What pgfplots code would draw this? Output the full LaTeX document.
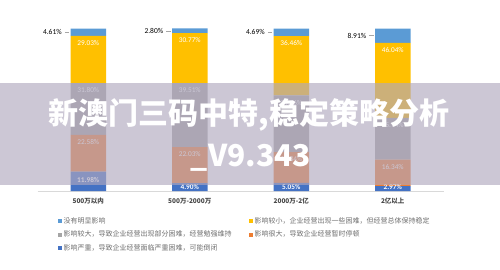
\documentclass[border=0pt]{standalone}
\usepackage{pgfplots}
\pgfplotsset{compat=1.18}
\usepackage{pgfplotstable}
\usepackage{fontspec}
\setmainfont{Carlito}
\newfontfamily\cjk{Noto Sans CJK SC}
\definecolor{cNone}{RGB}{91,155,213}
\definecolor{cSmall}{RGB}{255,192,0}
\definecolor{cBig}{RGB}{165,165,165}
\definecolor{cVbig}{RGB}{237,125,49}
\definecolor{cSev}{RGB}{68,114,196}
\definecolor{ovl}{RGB}{176,168,190}
\definecolor{axgray}{RGB}{217,217,217}
\definecolor{legtxt}{RGB}{110,110,110}
\definecolor{cattxt}{RGB}{70,70,70}
\definecolor{leadgray}{RGB}{166,166,166}

% shares of each answer, per company size (percent)
\pgfplotstableread{
x none small big vbig sev
0 4.61 29.03 31.80 22.58 11.98
1 2.80 30.77 39.51 22.03 4.90
2 4.69 36.46 34.96 18.84 5.05
3 8.91 46.04 25.74 16.34 2.97
}\shares

% inside labels, at the top of their segment (y = segment top)
\pgfplotstableread{
x y v
0 95.39 29.03
0 66.36 31.80
0 34.56 22.58
1 97.21 30.77
1 66.44 39.51
1 26.93 22.03
2 95.31 36.46
2 58.85 34.96
2 23.89 18.84
3 91.09 46.04
3 45.05 25.74
3 19.31 16.34
}\inlabels

\pgfplotstableread{
x y v
0 6.5 11.98
1 2.5 4.90
2 2.5 5.05
3 2.5 2.97
}\bottomlabels

\pgfplotstableread{
x y v
-0.25 97.70 4.61
0.75 98.60 2.80
1.75 97.66 4.69
2.75 95.55 8.91
}\toplabels

\begin{document}
\begin{tikzpicture}
\path[use as bounding box] (0,0) rectangle (500pt,-269pt);
\pgfplotsset{
  /pgf/number format/assume math mode=true,
  base/.style={scale only axis, width=406pt, height=162.5pt,
    xmin=-0.5, xmax=3.5, ymin=0, ymax=100, clip=false,
    at={(37.5pt,-191pt)}, anchor=south west},
  pct/.style={nodes near coords={\pgfmathprintnumber[assume math mode=true,fixed,fixed zerofill,precision=2]{\pgfplotspointmeta}\%},
    point meta=explicit},
}
\begin{axis}[base,
  ybar stacked, bar width=35.5pt,
  axis x line*=bottom, axis y line=none,
  x axis line style={draw=axgray, line width=0.8pt},
  xtick={0,1,2,3},
  xticklabels={500万以内,500万-2000万,2000万-2亿,2亿以上},
  major tick length=0pt,
  xticklabel style={font=\cjk\fontsize{6.5}{7}\selectfont\bfseries, text=cattxt, yshift=-3.5pt},
  legend columns=2, reverse legend,
  legend cell align=left,
  legend style={draw=none, fill=none, at={(0.0505,-0.152)}, anchor=north west,
    font=\cjk\fontsize{7}{8}\selectfont, text=legtxt, inner sep=0pt,
    row sep=3.2pt,
    /tikz/every even column/.append style={column sep=16pt},
    nodes={inner sep=1.5pt}},
  every axis plot/.append style={legend image code/.code={\fill[##1] (0pt,-2pt) rectangle (4pt,2pt);}},
]
\addplot[fill=cSev, draw=none] table[x=x,y=sev]{\shares};
\addlegendentry{影响严重，导致企业经营面临严重困难，可能倒闭}
\addplot[fill=cVbig, draw=none] table[x=x,y=vbig]{\shares};
\addlegendentry{影响很大，导致企业经营暂时停顿}
\addplot[fill=cBig, draw=none] table[x=x,y=big]{\shares};
\addlegendentry{影响较大，导致企业经营出现部分困难，经营勉强维持}
\addplot[fill=cSmall, draw=none] table[x=x,y=small]{\shares};
\addlegendentry{影响较小，企业经营出现一些困难，但经营总体保持稳定}
\addplot[fill=cNone, draw=none] table[x=x,y=none]{\shares};
\addlegendentry{没有明显影响}
\end{axis}

\begin{axis}[base, hide axis]
\addplot[draw=none, mark=none, pct,
  every node near coord/.style={font=\fontsize{7.3}{8}\selectfont, text=white, anchor=north, yshift=-2.5pt, inner sep=2pt}]
  table[x=x,y=y,meta=v]{\inlabels};
\addplot[draw=none, mark=none, pct,
  every node near coord/.style={font=\bfseries\fontsize{7.3}{8}\selectfont, text=white, anchor=center}]
  table[x=x,y=y,meta=v]{\bottomlabels};
\addplot[draw=none, mark=none, pct,
  every node near coord/.style={font=\fontsize{7.5}{8}\selectfont, text=black, anchor=east, inner sep=1pt}]
  table[x=x,y=y,meta=v]{\toplabels};
\addplot[leadgray, line width=0.5pt, mark=none] coordinates {(-0.23,97.70) (-0.185,97.70)};
\addplot[leadgray, line width=0.5pt, mark=none] coordinates {(0.77,98.60) (0.815,98.60)};
\addplot[leadgray, line width=0.5pt, mark=none] coordinates {(1.77,97.66) (1.815,97.66)};
\addplot[leadgray, line width=0.5pt, mark=none] coordinates {(2.77,95.55) (2.815,95.55)};
\end{axis}

\fill[ovl, opacity=0.64] (0pt,-83pt) rectangle (500pt,-185pt);
\node[font=\cjk\fontsize{30}{30}\selectfont\bfseries, text=white, anchor=base] at (249pt,-124pt) {新澳门三码中特,稳定策略分析};
\node[font=\cjk\fontsize{30}{30}\selectfont\bfseries, text=white, anchor=base] at (251pt,-166pt) {\_V9.343};
\end{tikzpicture}
\end{document}
